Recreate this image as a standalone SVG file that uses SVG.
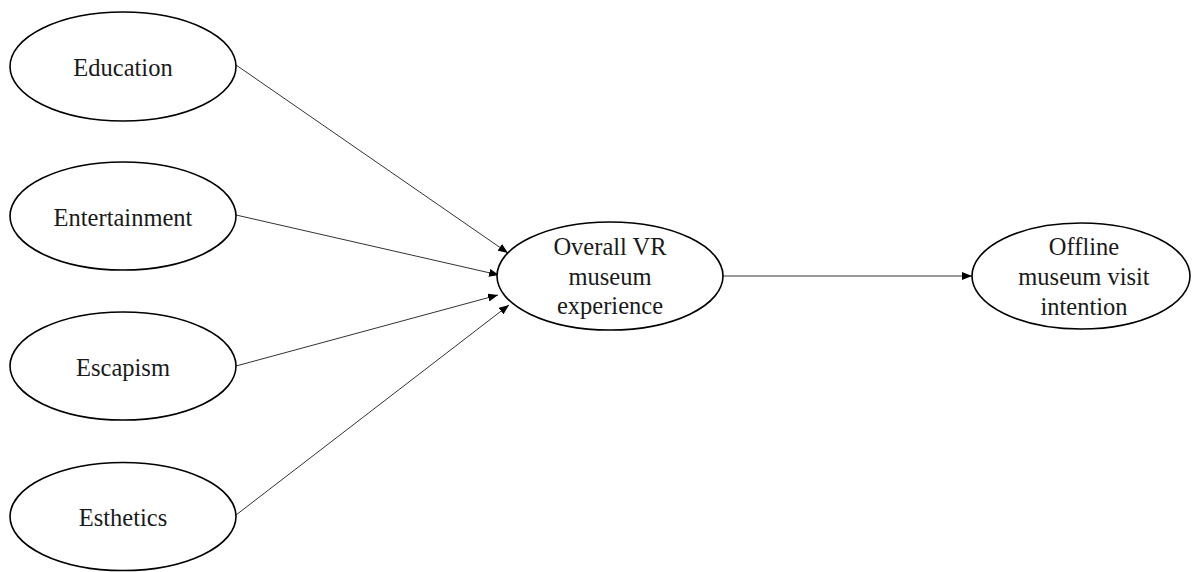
<svg xmlns="http://www.w3.org/2000/svg" width="1192" height="572" viewBox="0 0 1192 572">
  <style>
    .node ellipse { fill: #ffffff; stroke: #000000; stroke-width: 1.6; }
    .node text { font-family: "Times New Roman", "Liberation Serif", Times, serif; font-size: 24.5px; fill: #1a1a1a; text-anchor: middle; }
    .edge { stroke: #333333; stroke-width: 1; fill: none; marker-end: url(#arrow); }
  </style>
  <defs>
    <marker id="arrow" viewBox="0 0 10 8" refX="10" refY="4" markerWidth="10" markerHeight="8" markerUnits="userSpaceOnUse" orient="auto">
      <path d="M0,0 L10,4 L0,8 Z" fill="#000000"/>
    </marker>
  </defs>
  <rect width="1192" height="572" fill="#ffffff"/>

  <g id="connectors">
    <line class="edge" x1="236" y1="65" x2="508" y2="253"/>
    <line class="edge" x1="236" y1="215" x2="499" y2="275"/>
    <line class="edge" x1="236" y1="366" x2="498" y2="295"/>
    <line class="edge" x1="236" y1="515" x2="509" y2="305"/>
    <line class="edge" x1="723" y1="276" x2="972" y2="276"/>
  </g>

  <g id="education" class="node">
    <ellipse cx="123" cy="66.5" rx="113" ry="54.5"/>
    <text x="123" y="76">Education</text>
  </g>
  <g id="entertainment" class="node">
    <ellipse cx="123" cy="216" rx="113" ry="54"/>
    <text x="123" y="226">Entertainment</text>
  </g>
  <g id="escapism" class="node">
    <ellipse cx="123" cy="366" rx="113" ry="54"/>
    <text x="123" y="376">Escapism</text>
  </g>
  <g id="esthetics" class="node">
    <ellipse cx="123" cy="516.5" rx="113" ry="54"/>
    <text x="123" y="526">Esthetics</text>
  </g>
  <g id="overall-vr" class="node">
    <ellipse cx="610" cy="276" rx="113" ry="54"/>
    <text x="610" y="255">Overall VR</text>
    <text x="610" y="285">museum</text>
    <text x="610" y="314">experience</text>
  </g>
  <g id="offline-visit" class="node">
    <ellipse cx="1081" cy="276" rx="109" ry="53"/>
    <text x="1084" y="255">Offline</text>
    <text x="1084" y="285">museum visit</text>
    <text x="1084" y="315">intention</text>
  </g>
</svg>
